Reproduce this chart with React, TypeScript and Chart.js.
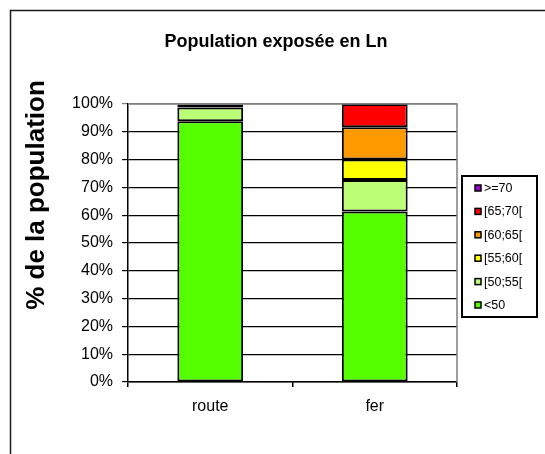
import { useEffect, useRef } from "react";
import { Chart, registerables } from "chart.js";

Chart.register(...registerables);

const categories = ["route", "fer"];
const seriesLabels = ["<50", "[50;55[", "[55;60[", "[60;65[", "[65;70[", ">=70"];
const seriesLt50 = [93.8, 61.3];
const series50to55 = [4.9, 11.4];
const series55to60 = [1.1, 7.3];
const series60to65 = [0.2, 11.6];
const series65to70 = [0, 8.4];
const seriesGe70 = [0, 0];
const seriesColors = ["#55FF00", "#BBFF77", "#FFFF00", "#FF9900", "#FF0000", "#9900CC"];
const yTickValues = [0, 10, 20, 30, 40, 50, 60, 70, 80, 90, 100];
const chartTitle = "Population exposée en Ln";
const yAxisTitle = "% de la population";

const FONT = "'Liberation Sans', Arial, sans-serif";

const decorPlugin = {
  id: "decor",
  beforeDraw(chart: any) {
    const ctx = chart.ctx;
    ctx.save();
    ctx.fillStyle = "#ffffff";
    ctx.fillRect(0, 0, chart.width, chart.height);
    ctx.restore();
  },
  afterDraw(chart: any) {
    const ctx = chart.ctx;
    const a = chart.chartArea;
    ctx.save();
    // plot area right/top border (gray)
    ctx.strokeStyle = "#808080";
    ctx.lineWidth = 1.5;
    ctx.beginPath();
    ctx.moveTo(a.left, a.top);
    ctx.lineTo(a.right, a.top);
    ctx.lineTo(a.right, a.bottom);
    ctx.stroke();
    // outer frame
    ctx.strokeStyle = "#1a1a1a";
    ctx.lineWidth = 1.5;
    ctx.beginPath();
    ctx.moveTo(10.5, chart.height + 5);
    ctx.lineTo(10.5, 10.5);
    ctx.lineTo(chart.width + 5, 10.5);
    ctx.stroke();
    // title
    ctx.fillStyle = "#000";
    ctx.textAlign = "center";
    ctx.textBaseline = "middle";
    ctx.font = `bold 18px ${FONT}`;
    ctx.fillText(chartTitle, 276, 42);
    // y axis title
    ctx.save();
    ctx.translate(37, 195);
    ctx.rotate(-Math.PI / 2);
    ctx.font = `bold 26px ${FONT}`;
    ctx.fillText(yAxisTitle, 0, 0);
    ctx.restore();
    // legend
    const lx = 462, ly = 176, lw = 75, lh = 141;
    ctx.fillStyle = "#fff";
    ctx.fillRect(lx, ly, lw, lh);
    ctx.strokeStyle = "#000";
    ctx.lineWidth = 2;
    ctx.strokeRect(lx, ly, lw, lh);
    const ds = chart.data.datasets;
    ctx.font = `12.5px ${FONT}`;
    ctx.textAlign = "left";
    for (let i = 0; i < ds.length; i++) {
      const d = ds[ds.length - 1 - i];
      const cy = 188 + i * 23.4;
      ctx.fillStyle = d.backgroundColor;
      ctx.fillRect(475, cy - 3, 6, 6);
      ctx.strokeStyle = "#000";
      ctx.lineWidth = 1.5;
      ctx.strokeRect(475, cy - 3, 6, 6);
      ctx.fillStyle = "#000";
      ctx.fillText(d.label, 484, cy + 0.5);
    }
    ctx.restore();
  },
};

export default function App() {
  const ref = useRef<HTMLCanvasElement | null>(null);
  useEffect(() => {
    if (!ref.current) return;
    const seriesData = [seriesLt50, series50to55, series55to60, series60to65, series65to70, seriesGe70];
    const chart = new Chart(ref.current, {
      type: "bar",
      data: {
        labels: categories,
        datasets: seriesData.map((d, i) => ({
          label: seriesLabels[i],
          data: d,
          backgroundColor: seriesColors[i],
          borderColor: "#000",
          borderWidth: 2,
          borderSkipped: false,
          barPercentage: 0.4,
          categoryPercentage: 1,
        })),
      },
      options: {
        responsive: false,
        animation: false,
        layout: { padding: { top: 104, right: 88, left: 0, bottom: 0 } },
        plugins: { legend: { display: false }, title: { display: false }, tooltip: { enabled: false } },
        scales: {
          x: {
            stacked: true,
            afterFit: (s: any) => { s.height = 72; },
            grid: { display: true, drawOnChartArea: false, drawTicks: true, tickLength: 5, color: "#000", lineWidth: 1.5, offset: true },
            border: { display: true, color: "#000", width: 1.5 },
            ticks: { color: "#000", font: { family: FONT, size: 16 }, padding: 10 },
          },
          y: {
            stacked: true,
            min: 0,
            max: 100,
            afterFit: (s: any) => { s.width = 128; },
            afterBuildTicks: (s: any) => { s.ticks = yTickValues.map((v) => ({ value: v })); },
            grid: {
              color: (c: any) => (c.tick && c.tick.value === 100 ? "#808080" : "#000"),
              lineWidth: 1.2,
              tickLength: 6,
              drawTicks: true,
            },
            border: { display: true, color: "#000", width: 1.5 },
            ticks: { color: "#000", font: { family: FONT, size: 16 }, padding: 9, callback: (v: any) => `${v}%` },
          },
        },
      },
      plugins: [decorPlugin],
    });
    return () => chart.destroy();
  }, []);
  return (
    <div style={{ position: "fixed", left: 0, top: 0, width: 545, height: 454, background: "#fff" }}>
      <canvas ref={ref} width={545} height={454} />
    </div>
  );
}
